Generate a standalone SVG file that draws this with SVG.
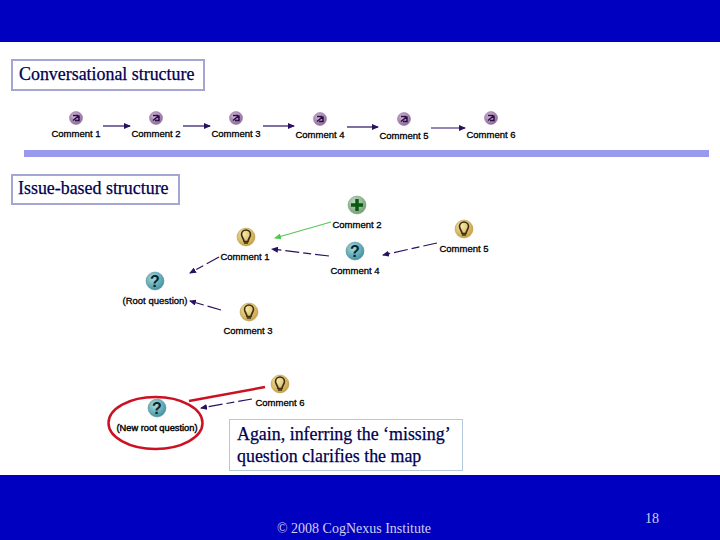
<svg xmlns="http://www.w3.org/2000/svg" width="720" height="540" viewBox="0 0 720 540">
<style>
.serif{font-family:"Liberation Serif","Times New Roman",serif;fill:#000050;stroke:#000050;stroke-width:.25px}
.h{font-size:17.9px}
.c{font-family:"Liberation Sans",Arial,sans-serif;font-size:9.5px;fill:#000;text-anchor:middle;stroke:#000;stroke-width:.3px}
.box{fill:#fff;stroke:#a6a6d4;stroke-width:2}
.l{fill:none;stroke:#2a1060;stroke-width:1.2}
.d{stroke-dasharray:14 4 8 4}
.g{stroke:#58c858;stroke-dasharray:none}
.bulbc{fill:url(#gb);stroke:#b09448;stroke-width:.5}
.bulb{fill:none;stroke:#3a2e10;stroke-width:1.6}
.qc{fill:url(#gq);stroke:#4a8a98;stroke-width:.5}
.q{font-family:"Liberation Sans",Arial,sans-serif;font-size:16px;font-weight:bold;fill:#06242a;text-anchor:middle}
.cc{fill:url(#gc);stroke:#8c6c98;stroke-width:.5}
.cg{fill:none;stroke:#2a1040;stroke-width:1.5}
.f{font-family:"Liberation Serif","Times New Roman",serif;fill:#d0d0f0;text-anchor:middle}
</style>
<defs>
<radialGradient id="gb" cx=".4" cy=".35" r=".7"><stop offset="0" stop-color="#f6e8a8"/><stop offset="1" stop-color="#c49c40"/></radialGradient>
<radialGradient id="gq" cx=".4" cy=".35" r=".7"><stop offset="0" stop-color="#a8dce0"/><stop offset="1" stop-color="#3f8c9c"/></radialGradient>
<radialGradient id="gc" cx=".4" cy=".35" r=".7"><stop offset="0" stop-color="#d0b8d8"/><stop offset="1" stop-color="#8c6498"/></radialGradient>
<radialGradient id="gp" cx=".4" cy=".35" r=".7"><stop offset="0" stop-color="#c8dcc8"/><stop offset="1" stop-color="#6f9a6f"/></radialGradient>
<marker id="a" markerWidth="7" markerHeight="6" refX="6" refY="3" orient="auto" markerUnits="userSpaceOnUse"><path d="M0 0L7 3L0 6Z" fill="#2a1060"/></marker>
<marker id="ag" markerWidth="7" markerHeight="6" refX="6" refY="3" orient="auto" markerUnits="userSpaceOnUse"><path d="M0 0L7 3L0 6Z" fill="#50c850"/></marker>
<g id="ic"><circle r="6.500" class="cc"/><path d="M-3 2.500L3 -2.500M-3 -2.500H2M3 -2.500V2.500H-1" class="cg"/></g>
<g id="ib"><circle r="9" class="bulbc"/><path d="M-2 4.500C-2 2 -4.500 0 -4.500 -2.500A4.500 4.500 0 0 1 4.500 -2.500C4.500 0 2 2 2 4.500Z" class="bulb"/><path d="M-2 6H2" stroke="#3a2e10" stroke-width="1.500"/></g>
<g id="iq"><circle r="9" class="qc"/><text y="6" class="q">?</text></g>
</defs>

<rect width="720" height="42" fill="#0000c0"/>
<rect y="475" width="720" height="65" fill="#0000c0"/>
<rect x="24" y="150" width="685" height="7" fill="#9999ee"/>

<g id="title1"><rect x="12" y="60" width="192" height="30" class="box"/><text x="19" y="80" class="serif h">Conversational structure</text></g>
<g id="title2"><rect x="12" y="175" width="167" height="29" class="box"/><text x="18" y="194" class="serif h">Issue-based structure</text></g>

<g id="connectors">
<path d="M103 126H130" class="l" marker-end="url(#a)"/>
<path d="M183 126H210" class="l" marker-end="url(#a)"/>
<path d="M263 126H294" class="l" marker-end="url(#a)"/>
<path d="M347 127H378" class="l" marker-end="url(#a)"/>
<path d="M431 128H465" class="l" marker-end="url(#a)"/>
<path d="M219 257L190 273" class="l d" marker-end="url(#a)"/>
<path d="M221 310L190 301" class="l d" marker-end="url(#a)"/>
<path d="M329 256L272 249" class="l d" marker-end="url(#a)"/>
<path d="M331 222L275 238" class="l g" marker-end="url(#ag)"/>
<path d="M437 243L383 255" class="l d" marker-end="url(#a)"/>
<path d="M252 399L201 408" class="l d" marker-end="url(#a)"/>
</g>

<g id="n1"><use href="#ic" x="76" y="118"/><text x="76" y="137" class="c">Comment 1</text></g>
<g id="n2"><use href="#ic" x="156" y="118"/><text x="156" y="137" class="c">Comment 2</text></g>
<g id="n3"><use href="#ic" x="236" y="118"/><text x="236" y="137" class="c">Comment 3</text></g>
<g id="n4"><use href="#ic" x="320" y="119"/><text x="320" y="138" class="c">Comment 4</text></g>
<g id="n5"><use href="#ic" x="404" y="119"/><text x="404" y="139" class="c">Comment 5</text></g>
<g id="n6"><use href="#ic" x="491" y="118"/><text x="491" y="138" class="c">Comment 6</text></g>

<g id="i1"><use href="#ib" x="246" y="237"/><text x="245" y="260" class="c">Comment 1</text></g>
<g id="i2"><circle cx="357" cy="205" r="9" fill="url(#gp)" stroke="#6f9a6f" stroke-width=".5"/><path d="M357 199V211M351 205H363" stroke="#0a5a10" stroke-width="3.500"/><text x="357" y="228" class="c">Comment 2</text></g>
<g id="i3"><use href="#ib" x="249" y="312"/><text x="248" y="334" class="c">Comment 3</text></g>
<g id="i4"><use href="#iq" x="355" y="251"/><text x="355" y="274" class="c">Comment 4</text></g>
<g id="i5"><use href="#ib" x="464" y="229"/><text x="464" y="252" class="c">Comment 5</text></g>
<g id="root"><use href="#iq" x="155" y="281"/><text x="155" y="304" class="c">(Root question)</text></g>
<g id="newroot"><use href="#iq" x="157" y="408"/><text x="157" y="431" class="c" style="font-size:9.300px;stroke-width:.4px">(New root question)</text></g>
<g id="i6"><use href="#ib" x="280" y="384"/><text x="280" y="406" class="c">Comment 6</text></g>

<g id="callout">
<ellipse cx="155.500" cy="423" rx="47" ry="26" fill="none" stroke="#cc1122" stroke-width="2.500"/>
<path d="M189 401L265 387" stroke="#cc1122" stroke-width="2.500" fill="none"/>
</g>

<g id="note"><rect x="229.500" y="419.500" width="233" height="51" fill="#fff" stroke="#b4c8dc"/>
<text x="237" y="440" class="serif h">Again, inferring the ‘missing’</text>
<text x="237" y="462" class="serif h">question clarifies the map</text></g>

<text x="354" y="533" class="f" font-size="14">© 2008 CogNexus Institute</text>
<text x="652" y="523" class="f" font-size="14">18</text>
</svg>
